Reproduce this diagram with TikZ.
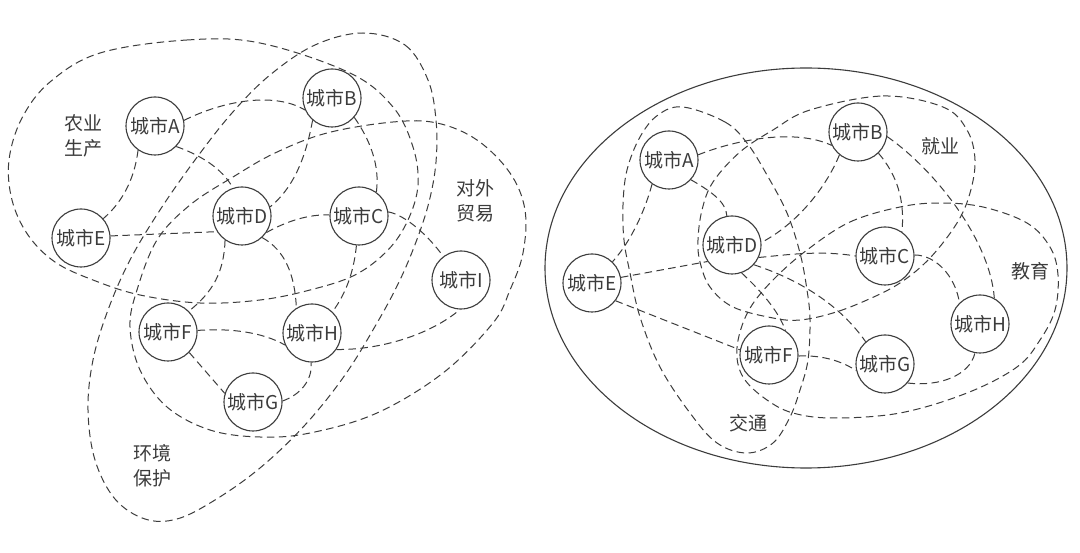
\documentclass[tikz,border=0pt]{standalone}
\usepackage{fontspec}
\newfontfamily\cjk{Noto Sans CJK SC}
\begin{document}
\definecolor{ink}{HTML}{3C3C3C}
\begin{tikzpicture}[x=1pt,y=-1pt,
  city/.style={circle,draw=ink,line width=1.1pt,fill=white,minimum size=58pt,inner sep=0pt,
    font=\cjk\fontsize{19}{22}\selectfont,text=ink},
  link/.style={draw=ink,line width=1pt,dash pattern=on 7.5pt off 4.5pt},
  region/.style={draw=ink,line width=1pt,dash pattern=on 7.5pt off 4.5pt},
  lbl/.style={font=\cjk\fontsize{19}{25}\selectfont,text=ink,align=center}]
\fill[white] (0,0) rectangle (1080,553);
\useasboundingbox (0,0) rectangle (1080,553);

% ---------------- left diagram: regions ----------------
% agriculture
\draw[region] plot[smooth cycle,tension=0.6] coordinates {
 (100,53) (187,40) (260,43) (350,73) (393,107) (413,147) (418,185) (408,220)
 (388,250) (355,275) (310,290) (260,300) (200,303) (140,295) (93,280) (55,262)
 (28,235) (12,200) (9,160) (22,118) (50,82)};
% foreign trade
\draw[region] plot[smooth cycle,tension=0.6] coordinates {
 (233,177) (275,153) (327,133) (393,122) (437,123) (477,140) (510,173) (525,210)
 (523,253) (510,290) (493,323) (443,373) (377,413) (310,433) (260,437) (210,430)
 (167,407) (140,370) (130,327) (137,290) (157,240) (190,205)};
% environment protection
\draw[region] plot[smooth cycle,tension=0.6] coordinates {
 (363,33) (405,45) (428,80) (436,120) (436,162) (429,202) (416,242) (399,282)
 (377,323) (345,375) (305,425) (260,468) (215,500) (177,519) (145,519) (115,499)
 (95,460) (88,410) (93,360) (108,310) (130,260) (160,210) (195,160) (232,113)
 (270,75) (315,45)};

% ---------------- left diagram: cities ----------------
\node[city] (LA) at (155,126) {城市A};
\node[city] (LB) at (332,98)  {城市B};
\node[city] (LD) at (242,216) {城市D};
\node[city] (LC) at (359,216) {城市C};
\node[city] (LE) at (81,238)  {城市E};
\node[city] (LI) at (461,280) {城市I};
\node[city] (LF) at (168,332) {城市F};
\node[city] (LH) at (312,333) {城市H};
\node[city] (LG) at (253,402) {城市G};

\draw[link] (LA.11) .. controls (225,100) and (275,92) .. (LB.204);
\draw[link] (LA.316) .. controls (200,155) and (222,168) .. (LD.108);
\draw[link] (LA.235) .. controls (135,175) and (125,200) .. (LE.41);
\draw[link] (LB.229) .. controls (307,150) and (297,185) .. (LD.18);
\draw[link] (LB.319) .. controls (370,140) and (380,165) .. (LC.54);
\draw[link] (LE.4) -- (LD.212);
\draw[link] (LD.326) .. controls (285,222) and (308,214) .. (LC.178);
\draw[link] (LC.8) .. controls (405,215) and (428,235) .. (LI.127);
\draw[link] (LD.235) .. controls (224,272) and (213,292) .. (LF.45);
\draw[link] (LD.313) .. controls (285,250) and (295,275) .. (LH.122);
\draw[link] (LC.265) .. controls (354,270) and (347,292) .. (LH.46);
\draw[link] (LF.3) .. controls (230,328) and (262,332) .. (LH.204);
\draw[link] (LF.316) -- (LG.163);
\draw[link] (LG.2) .. controls (300,395) and (313,380) .. (LH.268);
\draw[link] (LH.326) .. controls (380,350) and (430,335) .. (LI.268);

\node[lbl] (t1) at (83,136) {农业\\生产};
\node[lbl] (t2) at (475,201) {对外\\贸易};
\node[lbl] (t3) at (152,466) {环境\\保护};

% ---------------- right diagram ----------------
\draw[draw=ink,line width=1.1pt] (806,268) ellipse [x radius=261pt, y radius=200pt];
% employment
\draw[region] plot[smooth cycle,tension=0.6] coordinates {
 (810,110) (883,96) (943,107) (967,130) (975,160) (970,193) (957,223) (930,258)
 (900,283) (867,300) (833,313) (800,320) (773,318) (733,307) (710,287) (700,262)
 (698,240) (702,210) (713,182) (740,152) (773,130)};
% education
\draw[region] plot[smooth cycle,tension=0.6] coordinates {
 (807,250) (850,222) (900,207) (940,203) (983,207) (1027,223) (1050,247) (1058,275)
 (1055,310) (1040,340) (1017,367) (967,393) (900,413) (833,418) (793,413) (767,400)
 (745,380) (737,358) (740,332) (752,305) (775,278)};
% transport
\draw[region] plot[smooth cycle,tension=0.6] coordinates {
 (683,107) (725,122) (747,143) (767,175) (787,213) (800,253) (807,290) (810,320)
 (808,360) (800,390) (790,417) (773,443) (747,453) (717,443) (690,413) (660,367)
 (640,317) (630,273) (624,240) (623,205) (627,170) (640,137) (658,115)};

\node[city] (RA) at (669,160) {城市A};
\node[city] (RB) at (858,132) {城市B};
\node[city] (RD) at (732,245) {城市D};
\node[city] (RC) at (885,256) {城市C};
\node[city] (RE) at (592,283) {城市E};
\node[city] (RF) at (769,355) {城市F};
\node[city] (RG) at (885,364) {城市G};
\node[city] (RH) at (980,324) {城市H};

\draw[link] (RA.10) .. controls (735,140) and (795,128) .. (RB.207);
\draw[link] (RA.318) .. controls (712,192) and (726,202) .. (RD.100);
\draw[link] (RA.235) .. controls (645,210) and (632,240) .. (RE.46);
\draw[link] (RB.231) .. controls (825,190) and (795,225) .. (RD.5);
\draw[link] (RB.314) .. controls (897,175) and (905,200) .. (RC.55);
\draw[link] (RB.351) .. controls (935,170) and (990,240) .. (RH.61);
\draw[link] (RE.11) -- (RD.214);
\draw[link] (RD.335) .. controls (785,255) and (820,250) .. (RC.180);
\draw[link] (RD.289) .. controls (760,290) and (778,310) .. (RF.56);
\draw[link] (RD.318) .. controls (800,280) and (840,305) .. (RG.131);
\draw[link] (RE.323) -- (RF.170);
\draw[link] (RF.358) .. controls (820,355) and (840,360) .. (RG.193);
\draw[link] (RG.320) .. controls (940,387) and (970,375) .. (RH.260);
\draw[link] (RC.2) .. controls (935,255) and (955,275) .. (RH.134);

\node[lbl] (t4) at (940,146) {就业};
\node[lbl] (t5) at (1030,271) {教育};
\node[lbl] (t6) at (748,423) {交通};
\end{tikzpicture}
\end{document}
